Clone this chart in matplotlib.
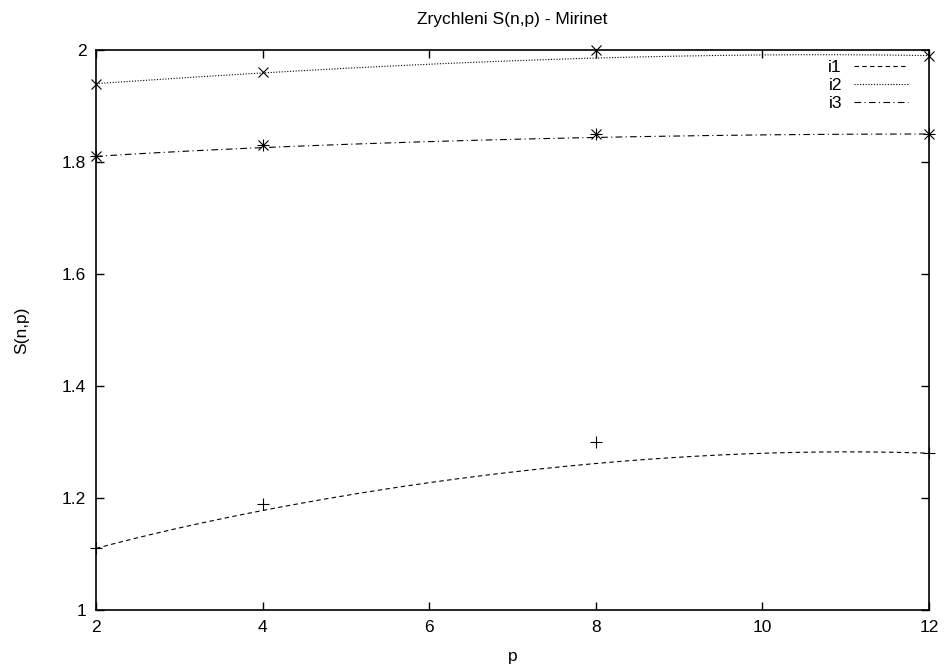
import numpy as np
import matplotlib
matplotlib.use('Agg')
import matplotlib.pyplot as plt
from math import comb

plt.rcParams['font.family'] = ['Liberation Sans', 'DejaVu Sans']

p = [2, 4, 8, 12]
i1 = [1.11, 1.19, 1.30, 1.28]
i2 = [1.94, 1.96, 2.00, 1.99]
i3 = [1.81, 1.83, 1.85, 1.85]


def bezier(xs, ys, n=200):
    # same as gnuplot "smooth bezier"
    xs = np.asarray(xs, float)
    ys = np.asarray(ys, float)
    k = len(xs) - 1
    t = np.linspace(0, 1, n)
    bx = np.zeros(n)
    by = np.zeros(n)
    for j in range(k + 1):
        b = comb(k, j) * t**j * (1 - t)**(k - j)
        bx += b * xs[j]
        by += b * ys[j]
    return bx, by


fig = plt.figure(figsize=(9.46, 6.67), dpi=100)
ax = fig.add_axes([96/946, 57/667, 833/946, 560/667])

styles = [(i1, (0, (4, 3)), 'i1'),
          (i2, (0, (1, 1.5)), 'i2'),
          (i3, (0, (6, 3, 1, 3)), 'i3')]
for vals, ls, lbl in styles:
    bx, by = bezier(p, vals)
    ax.plot(bx, by, color='black', lw=0.8, linestyle=ls, label=lbl)

mk = dict(linestyle='none', color='black', mew=0.8, clip_on=False, zorder=5)
ax.plot(p, i1, marker='+', ms=8, **mk)
ax.plot(p, i2, marker='x', ms=6.5, **mk)
ax.plot(p, i3, marker='+', ms=8, **mk)
ax.plot(p, i3, marker='x', ms=6.5, **mk)

ax.set_xlim(2, 12)
ax.set_ylim(1, 2)
ax.set_xticks([2, 4, 6, 8, 10, 12])
ax.set_yticks([1, 1.2, 1.4, 1.6, 1.8, 2])
ax.set_yticklabels(['1', '1.2', '1.4', '1.6', '1.8', '2'])
ax.tick_params(direction='in', length=6, width=1, top=True, right=True,
               labelsize=12.5, pad=7)
for s in ax.spines.values():
    s.set_linewidth(1.2)

ax.set_xlabel('p', fontsize=12.5, labelpad=10)
ax.set_ylabel('S(n,p)', fontsize=12.5, labelpad=24)
ax.set_title('Zrychleni S(n,p) - Mirinet', fontsize=12.5, pad=19)

leg = ax.legend(loc='upper right', frameon=False, markerfirst=False,
                fontsize=12.5, handlelength=3.1, handletextpad=0.7,
                labelspacing=0.18, borderaxespad=0.0,
                bbox_to_anchor=(0.983, 0.995))

fig.savefig('out.png', dpi=100)
